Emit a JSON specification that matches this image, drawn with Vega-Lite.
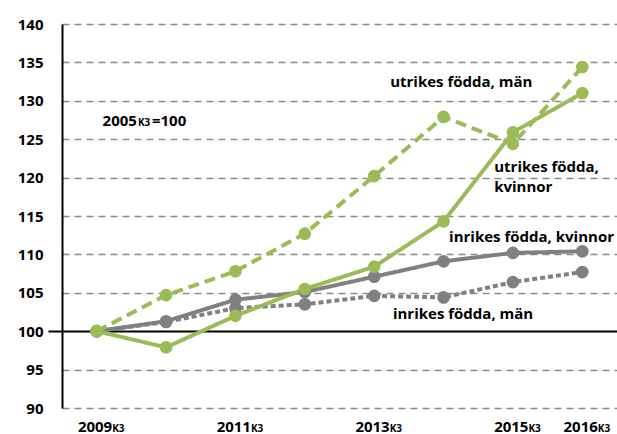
{
  "$schema": "https://vega.github.io/schema/vega-lite/v6.json",
  "width": 555,
  "height": 384,
  "autosize": {"type": "none"},
  "padding": {"left": 62, "top": 24, "right": 0, "bottom": 26},
  "config": {"view": {"stroke": null}, "font": "Open Sans", "text": {"font": "Open Sans", "fontWeight": "bold", "color": "black"}},
  "resolve": {"axis": {"x": "independent", "y": "independent"}},
  "datasets": {
    "series": [
      {"year": 2009, "value": 100, "series": "inrikes födda, män"},
      {"year": 2010, "value": 101.2, "series": "inrikes födda, män"},
      {"year": 2011, "value": 103, "series": "inrikes födda, män"},
      {"year": 2012, "value": 103.5, "series": "inrikes födda, män"},
      {"year": 2013, "value": 104.6, "series": "inrikes födda, män"},
      {"year": 2014, "value": 104.4, "series": "inrikes födda, män"},
      {"year": 2015, "value": 106.4, "series": "inrikes födda, män"},
      {"year": 2016, "value": 107.7, "series": "inrikes födda, män"},
      {"year": 2009, "value": 100, "series": "inrikes födda, kvinnor"},
      {"year": 2010, "value": 101.3, "series": "inrikes födda, kvinnor"},
      {"year": 2011, "value": 104.1, "series": "inrikes födda, kvinnor"},
      {"year": 2012, "value": 105.1, "series": "inrikes födda, kvinnor"},
      {"year": 2013, "value": 107.1, "series": "inrikes födda, kvinnor"},
      {"year": 2014, "value": 109.1, "series": "inrikes födda, kvinnor"},
      {"year": 2015, "value": 110.2, "series": "inrikes födda, kvinnor"},
      {"year": 2016, "value": 110.4, "series": "inrikes födda, kvinnor"},
      {"year": 2009, "value": 100, "series": "utrikes födda, kvinnor"},
      {"year": 2010, "value": 97.9, "series": "utrikes födda, kvinnor"},
      {"year": 2011, "value": 102, "series": "utrikes födda, kvinnor"},
      {"year": 2012, "value": 105.5, "series": "utrikes födda, kvinnor"},
      {"year": 2013, "value": 108.4, "series": "utrikes födda, kvinnor"},
      {"year": 2014, "value": 114.3, "series": "utrikes födda, kvinnor"},
      {"year": 2015, "value": 125.9, "series": "utrikes födda, kvinnor"},
      {"year": 2016, "value": 131, "series": "utrikes födda, kvinnor"},
      {"year": 2009, "value": 100, "series": "utrikes födda, män"},
      {"year": 2010, "value": 104.7, "series": "utrikes födda, män"},
      {"year": 2011, "value": 107.8, "series": "utrikes födda, män"},
      {"year": 2012, "value": 112.7, "series": "utrikes födda, män"},
      {"year": 2013, "value": 120.2, "series": "utrikes födda, män"},
      {"year": 2014, "value": 127.9, "series": "utrikes födda, män"},
      {"year": 2015, "value": 124.4, "series": "utrikes födda, män"},
      {"year": 2016, "value": 134.4, "series": "utrikes födda, män"}
    ],
    "labels": [
      {"text": "utrikes födda, män", "year": 2013.23, "value": 132.4},
      {"text": "utrikes födda,", "year": 2014.73, "value": 121.4},
      {"text": "kvinnor", "year": 2014.73, "value": 118.8},
      {"text": "inrikes födda, kvinnor", "year": 2014.08, "value": 112.3},
      {"text": "inrikes födda, män", "year": 2013.27, "value": 102.2}
    ],
    "base": [
      {"main": "2005", "sub": "K3", "rest": "=100", "year": 2009.58, "value": 127.4}
    ]
  },
  "layer": [
    {
      "data": {"name": "series"},
      "mark": {"type": "line", "strokeWidth": 4},
      "encoding": {
        "x": {
          "field": "year", "type": "quantitative",
          "scale": {"domain": [2008.5, 2016.5], "nice": false, "zero": false},
          "axis": {
            "orient": "bottom",
            "values": [2009, 2011, 2013, 2015, 2016], "format": "d", "title": null,
            "grid": false, "domain": false, "ticks": false, "labelFlush": false, "labelOverlap": false,
            "labelAlign": "right", "labelOffset": 15, "labelBaseline": "alphabetic", "labelPadding": 23,
            "labelFont": "Open Sans", "labelFontSize": 15, "labelFontWeight": "bold", "labelColor": "black"
          }
        },
        "y": {
          "field": "value", "type": "quantitative",
          "scale": {"domain": [90, 140], "nice": false, "zero": false},
          "axis": {
            "values": [90, 95, 100, 105, 110, 115, 120, 125, 130, 135, 140], "title": null,
            "grid": true,
            "gridDash": {"condition": {"test": "datum.value === 100", "value": [1, 0]}, "value": [7, 5]},
            "gridColor": {"condition": {"test": "datum.value === 100", "value": "black"}, "value": "#8c8c8c"},
            "gridWidth": {"condition": {"test": "datum.value === 100", "value": 2}, "value": 1.5},
            "domainColor": "black", "domainWidth": 2,
            "ticks": true, "tickSize": 14, "tickWidth": 2, "tickColor": "black",
            "tickOpacity": {"condition": {"test": "datum.value === 100", "value": 1}, "value": 0},
            "labelPadding": 5, "labelOverlap": false, "labelFlush": false,
            "labelFont": "Open Sans", "labelFontSize": 15, "labelFontWeight": "bold", "labelColor": "black"
          }
        },
        "detail": {"field": "series"},
        "color": {
          "field": "series", "type": "nominal", "legend": null,
          "scale": {
            "domain": ["inrikes födda, män", "inrikes födda, kvinnor", "utrikes födda, kvinnor", "utrikes födda, män"],
            "range": ["#808080", "#808080", "#9BBB59", "#9BBB59"]
          }
        },
        "strokeDash": {
          "field": "series", "type": "nominal", "legend": null,
          "scale": {
            "domain": ["inrikes födda, män", "inrikes födda, kvinnor", "utrikes födda, kvinnor", "utrikes födda, män"],
            "range": [[5, 3], [1, 0], [1, 0], [11, 6]]
          }
        }
      }
    },
    {
      "data": {"name": "series"},
      "mark": {"type": "circle", "size": 160, "opacity": 1},
      "encoding": {
        "x": {
          "field": "year", "type": "quantitative",
          "axis": {
            "orient": "bottom",
            "values": [2009, 2011, 2013, 2015, 2016], "labelExpr": "'K3'", "title": null,
            "grid": false, "domain": false, "ticks": false, "labelFlush": false, "labelOverlap": false,
            "labelAlign": "left", "labelOffset": 15, "labelBaseline": "alphabetic", "labelPadding": 23,
            "labelFont": "Open Sans", "labelFontSize": 10, "labelFontWeight": "bold", "labelColor": "black"
          }
        },
        "y": {"field": "value", "type": "quantitative", "axis": null},
        "color": {"field": "series", "type": "nominal", "legend": null}
      }
    },
    {
      "data": {"name": "labels"},
      "mark": {"type": "text", "align": "left", "baseline": "middle", "fontSize": 15},
      "encoding": {
        "x": {"field": "year", "type": "quantitative", "axis": null},
        "y": {"field": "value", "type": "quantitative", "axis": null},
        "text": {"field": "text"}
      }
    },
    {
      "data": {"name": "base"},
      "mark": {"type": "text", "align": "right", "baseline": "alphabetic", "fontSize": 15, "dy": 5},
      "encoding": {
        "x": {"field": "year", "type": "quantitative", "axis": null},
        "y": {"field": "value", "type": "quantitative", "axis": null},
        "text": {"field": "main"}
      }
    },
    {
      "data": {"name": "base"},
      "mark": {"type": "text", "align": "left", "baseline": "alphabetic", "fontSize": 10, "dy": 5, "dx": 1},
      "encoding": {
        "x": {"field": "year", "type": "quantitative", "axis": null},
        "y": {"field": "value", "type": "quantitative", "axis": null},
        "text": {"field": "sub"}
      }
    },
    {
      "data": {"name": "base"},
      "mark": {"type": "text", "align": "left", "baseline": "alphabetic", "fontSize": 15, "dx": 15, "dy": 5},
      "encoding": {
        "x": {"field": "year", "type": "quantitative", "axis": null},
        "y": {"field": "value", "type": "quantitative", "axis": null},
        "text": {"field": "rest"}
      }
    }
  ]
}
